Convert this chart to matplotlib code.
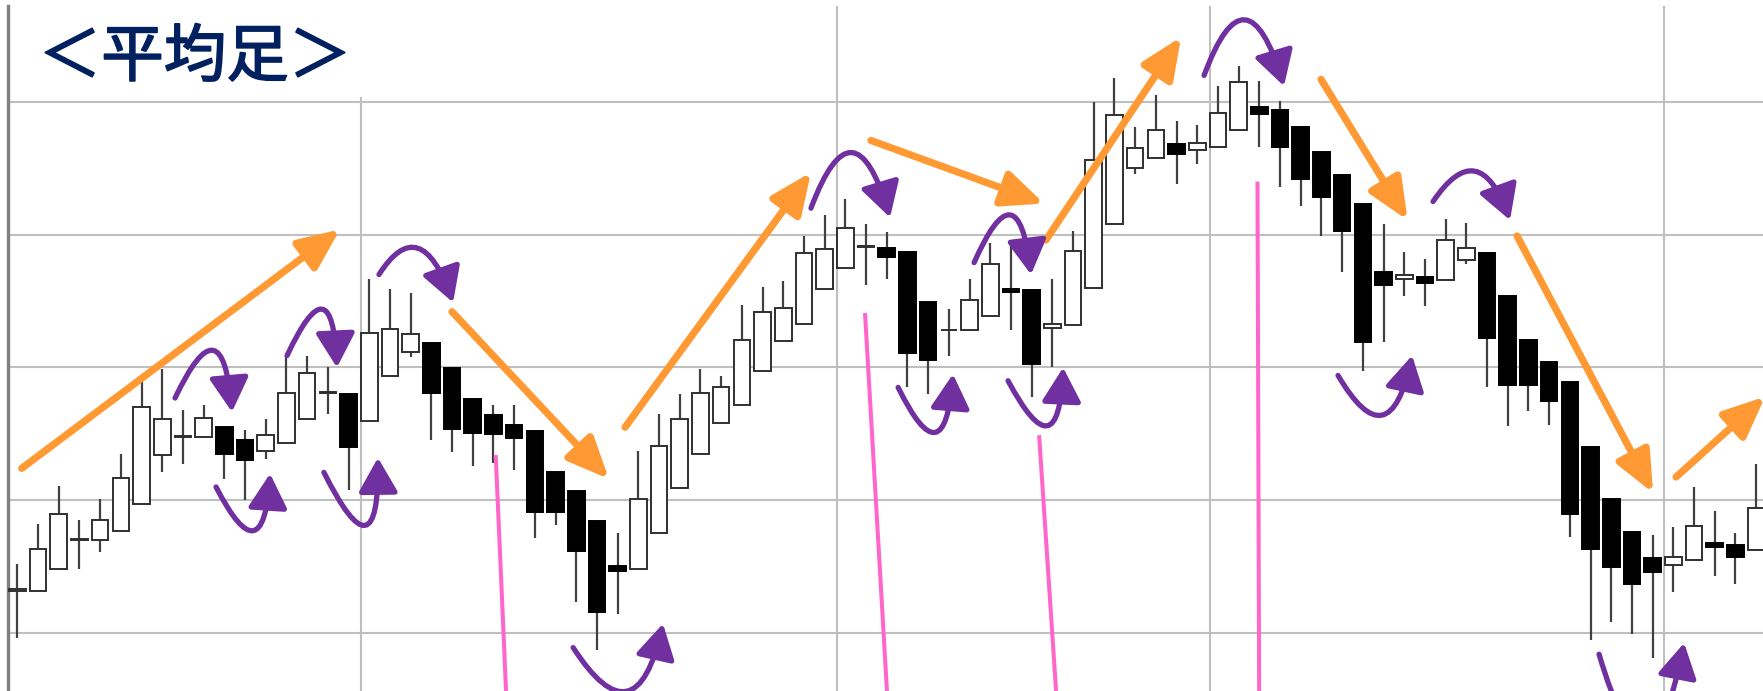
import numpy as np
import matplotlib.pyplot as plt
import matplotlib.patheffects as pe
from matplotlib.patches import FancyArrowPatch, Rectangle
from matplotlib.path import Path

# Heikin-Ashi candles (gridlines every 10 price units)
opens = [103.2, 103.2, 104.8, 107.0, 107.0, 107.7, 109.7, 113.4, 114.8, 114.8,
         115.5, 114.5, 113.7, 114.3, 116.1, 118.1, 118.0, 116.0, 119.35, 121.2,
         121.85, 119.95, 117.6, 116.4, 115.7, 115.2, 112.1, 110.7, 108.4, 105.05,
         104.8, 107.55, 110.9, 113.5, 115.8, 117.2, 119.7, 122.0, 123.3, 125.9,
         127.5, 129.1, 129.0, 128.7, 124.9, 122.8, 122.8, 123.9, 125.9, 125.8,
         123.0, 123.2, 126.0, 130.8, 135.0, 135.8, 136.8, 136.4, 136.6, 137.9,
         139.6, 139.4, 138.1, 136.2, 134.5, 132.35, 127.2, 126.7, 126.8, 126.6,
         128.1, 128.6, 125.4, 122.05, 120.4, 118.9, 114.0, 110.1, 107.6, 105.65,
         105.15, 105.5, 106.8, 106.6, 106.25]
highs = [105.2, 108.2, 111.1, 108.5, 110.1, 113.5, 118.9, 119.9, 116.8, 117.2,
         115.5, 115.3, 116.1, 120.9, 120.9, 120.0, 118.0, 126.7, 125.9, 125.6,
         121.85, 119.95, 117.6, 117.2, 117.2, 115.2, 112.1, 110.7, 108.4, 107.5,
         113.7, 116.5, 118.0, 119.85, 119.35, 124.7, 126.1, 126.5, 129.9, 131.5,
         132.7, 130.8, 130.2, 128.7, 124.9, 124.4, 126.7, 129.4, 129.3, 125.8,
         126.7, 130.3, 140.0, 141.8, 138.1, 140.5, 138.6, 138.3, 141.2, 142.7,
         141.6, 140.1, 138.1, 136.2, 134.5, 132.35, 130.8, 128.7, 128.2, 131.2,
         130.9, 128.6, 125.4, 122.05, 120.4, 118.9, 114.0, 110.1, 107.6, 107.4,
         108.0, 111.0, 109.2, 107.5, 112.7]
lows = [99.6, 103.2, 104.8, 104.8, 106.1, 107.7, 109.7, 112.1, 112.7, 114.8,
        111.6, 110.0, 113.1, 114.3, 116.1, 116.5, 110.8, 116.0, 119.35, 120.8,
        114.5, 113.6, 112.6, 112.8, 112.3, 107.15, 108.1, 102.3, 98.7, 101.4,
        104.8, 107.55, 110.9, 113.5, 115.8, 117.2, 119.7, 122.0, 123.3, 125.9,
        127.5, 126.2, 126.7, 118.55, 118.0, 120.85, 122.8, 123.9, 122.8, 117.8,
        120.05, 123.2, 126.0, 130.8, 134.6, 135.8, 133.8, 135.35, 136.6, 137.9,
        136.6, 133.6, 132.2, 129.9, 127.2, 119.7, 121.95, 125.4, 124.6, 126.6,
        127.8, 118.5, 115.6, 116.7, 115.7, 107.2, 99.5, 100.8, 99.9, 98.1,
        103.1, 105.5, 104.3, 103.7, 106.25]
closes = [103.3, 106.3, 109.0, 107.05, 108.5, 111.7, 117.0, 116.1, 114.85, 116.2,
          113.5, 113.0, 114.9, 118.1, 119.6, 118.15, 114.0, 122.6, 122.9, 122.5,
          118.05, 115.4, 115.1, 115.0, 114.7, 109.1, 109.1, 106.15, 101.6, 104.65,
          110.1, 114.1, 116.1, 118.1, 118.5, 122.1, 124.2, 124.5, 128.6, 128.9,
          130.5, 129.15, 128.3, 121.1, 120.6, 122.85, 125.1, 127.8, 125.7, 120.3,
          123.3, 128.8, 135.6, 139.0, 136.5, 137.9, 136.1, 136.9, 139.2, 141.5,
          139.1, 136.6, 134.2, 132.85, 130.3, 121.95, 126.2, 127.0, 126.4, 129.6,
          129.0, 122.2, 118.7, 118.7, 117.5, 109.0, 106.3, 105.0, 103.7, 104.6,
          105.75, 108.05, 106.5, 105.75, 109.4]

price_grid = [100, 110, 120, 130, 140]
period_breaks = [16.6, 39.6, 57.6, 79.55]

# trend arrows (start, tip) in (candle index, price)
trend_arrows = [((0.21, 112.4), (15.59, 130.4)),
                ((21.0, 124.2), (28.58, 111.6)),
                ((29.36, 115.5), (38.34, 134.7)),
                ((41.24, 137.1), (49.6, 132.35)),
                ((49.69, 129.6), (56.22, 144.9)),
                ((62.98, 141.7), (67.16, 131.1)),
                ((72.45, 129.9), (79.02, 110.55)),
                ((80.13, 111.75), (84.43, 117.8))]

# turning arcs (start, apex, tip)
turn_arcs = [((7.62, 117.7), (9.45, 121.2), (10.37, 116.65)),
             ((13.03, 120.9), (14.72, 124.3), (15.44, 120.0)),
             ((17.47, 127.0), (19.36, 128.9), (21.05, 124.9)),
             ((38.34, 132.0), (40.32, 136.1), (42.16, 131.3)),
             ((46.22, 127.9), (47.96, 131.4), (48.97, 127.0)),
             ((57.33, 142.0), (59.31, 146.1), (61.19, 141.2)),
             ((68.39, 132.5), (70.42, 134.7), (72.11, 131.1)),
             ((9.6, 111.0), (11.39, 107.8), (12.21, 112.0)),
             ((14.81, 112.1), (16.8, 108.2), (17.42, 113.2)),
             ((26.85, 98.9), (29.45, 95.7), (31.19, 100.7)),
             ((42.55, 118.5), (44.33, 115.2), (45.2, 119.5)),
             ((47.86, 119.0), (49.74, 115.7), (50.52, 120.0)),
             ((63.8, 119.4), (65.93, 116.5), (67.38, 120.9)),
             ((76.41, 98.4), (78.63, 92.3), (80.52, 99.25))]

# pink markers (top, bottom)
pink_lines = [((23.11, 113.4), (23.61, 95.63)),
              ((40.95, 124.1), (42.01, 95.63)),
              ((49.36, 114.9), (50.18, 95.63)),
              ((59.91, 134.0), (59.99, 95.63))]

ORANGE = '#FF9933'
PURPLE = '#7030A0'
PINK = '#FF66CC'
NAVY = '#002060'

fig = plt.figure(figsize=(17.63, 6.91), dpi=100)
ax = fig.add_axes([8 / 1763, 0, 1 - 8 / 1763, 685 / 691])
ax.set_xlim(-0.45, 84.33)
ax.set_ylim(95.63, 147.23)

for side in ['top', 'right', 'bottom']:
    ax.spines[side].set_visible(False)
ax.spines['left'].set_color('#7f7f7f')
ax.spines['left'].set_linewidth(2.4)

ax.set_yticks(price_grid)
ax.set_xticks(period_breaks)
ax.tick_params(length=0, labelleft=False, labelbottom=False)
ax.set_axisbelow(True)
ax.grid(True, color='#BFBFBF', linewidth=1.5)

# white box behind the title
ax.add_patch(Rectangle((-0.45, 140.4), 21, 8, facecolor='white',
                       edgecolor='none', zorder=1))

# candles
x = np.arange(len(opens))
o = np.array(opens)
c = np.array(closes)
ax.vlines(x, lows, highs, color='#404040', linewidth=1.6, zorder=2)
up = c >= o
bottom = np.minimum(o, c)
height = np.maximum(np.abs(c - o), 0.05)
ax.bar(x[up], height[up], bottom=bottom[up], width=0.8, color='white',
       edgecolor='#303030', linewidth=1.4, zorder=3)
ax.bar(x[~up], height[~up], bottom=bottom[~up], width=0.8, color='black',
       edgecolor='black', linewidth=1.4, zorder=3)

for (x0, y0), (x1, y1) in pink_lines:
    ax.plot([x0, x1], [y0, y1], color=PINK, linewidth=2.9,
            solid_capstyle='butt', zorder=4)

for start, tip in trend_arrows:
    arr = FancyArrowPatch(start, tip, arrowstyle='-|>,head_length=1.25,head_width=0.55',
                          mutation_scale=20, color=ORANGE, linewidth=5.2,
                          shrinkA=0, shrinkB=0, zorder=6)
    ax.add_patch(arr)

for start, apex, tip in turn_arcs:
    s, m, e = np.array(start), np.array(apex), np.array(tip)
    ctrl = 2 * m - (s + e) / 2
    path = Path([s, ctrl, e], [Path.MOVETO, Path.CURVE3, Path.CURVE3])
    arr = FancyArrowPatch(path=path, arrowstyle='-|>,head_length=1.05,head_width=0.6',
                          mutation_scale=20, color=PURPLE, linewidth=3.8, zorder=6)
    ax.add_patch(arr)

# title: regular weight thickened a little with a same-colour stroke
fig.text(195 / 1763, 1 - 58 / 691, '＜平均足＞', ha='center', va='center',
         fontsize=45, color=NAVY,
         family=['Noto Sans CJK JP', 'DejaVu Sans'],
         path_effects=[pe.withStroke(linewidth=1.2, foreground=NAVY)])

fig.savefig('out.png', dpi=100)
